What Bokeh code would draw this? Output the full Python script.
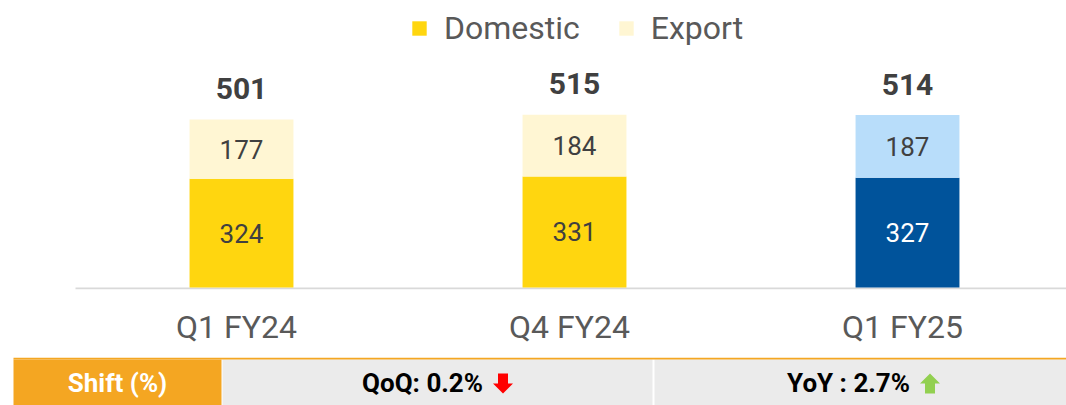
from bokeh.plotting import figure
from bokeh.models import Range1d, FixedTicker, Legend, LegendItem, ColumnDataSource
from bokeh.layouts import column
from bokeh.embed import file_html
from bokeh.resources import INLINE
from bokeh.core.properties import value

# ---- data ----
categories = ["Q1 FY24", "Q4 FY24", "Q1 FY25"]
domestic = [324, 331, 327]
export = [177, 184, 187]
totals = [501, 515, 514]
domestic_colors = ["#FFD60F", "#FFD60F", "#00539B"]
export_colors = ["#FFF6D3", "#FFF6D3", "#B8DDFA"]
domestic_text_colors = ["#404040", "#404040", "#FFFFFF"]
table_header = "Shift (%)"
table_cells = ["QoQ: 0.2%", "YoY : 2.7%"]
table_trend = ["down", "up"]
trend_colors = {"down": "#FF0000", "up": "#92D050"}

FONT = value("Roboto")
W = 1066
PX_PER_UNIT = 0.3355     # vertical scale (px per value unit)
PX_PER_CAT = 333.0       # horizontal spacing between categories

x = list(range(len(categories)))
src = ColumnDataSource(dict(
    x=x,
    dom=domestic,
    top=[d + e for d, e in zip(domestic, export)],
    dom_mid=[d / 2 for d in domestic],
    exp_mid=[d + e / 2 for d, e in zip(domestic, export)],
    tot=totals,
    dc=domestic_colors,
    ec=export_colors,
    dtc=domestic_text_colors,
    dom_lbl=[str(v) for v in domestic],
    exp_lbl=[str(v) for v in export],
    tot_lbl=[str(v) for v in totals],
))

first_center = 241.0
x_start = -first_center / PX_PER_CAT
x_end = (W - first_center) / PX_PER_CAT
y_lo = -2 / PX_PER_UNIT
y_hi = 287 / PX_PER_UNIT

p = figure(width=W, height=357,
           x_range=Range1d(x_start, x_end), y_range=Range1d(y_lo, y_hi),
           output_backend="svg", toolbar_location=None,
           min_border_left=0, min_border_right=0, min_border_top=0, min_border_bottom=68,
           y_axis_location=None)
p.grid.visible = False
p.outline_line_color = None
p.background_fill_color = "white"
p.border_fill_color = "white"

# baseline
axis_start = (75 - first_center) / PX_PER_CAT
p.segment(x0=[axis_start], x1=[x_end], y0=[y_lo / 2], y1=[y_lo / 2],
          line_color="#D9D9D9", line_width=2)

r_dom = p.vbar(x="x", bottom=0, top="dom", width=0.312, fill_color="dc", line_color=None, source=src)
r_exp = p.vbar(x="x", bottom="dom", top="top", width=0.312, fill_color="ec", line_color=None, source=src)

p.text(x="x", y="dom_mid", text="dom_lbl", text_align="center", text_baseline="middle",
       text_font=FONT, text_font_size="26px", text_color="dtc", source=src)
p.text(x="x", y="exp_mid", text="exp_lbl", text_align="center", text_baseline="middle",
       text_font=FONT, text_font_size="26px", text_color="#404040", source=src)
p.text(x="x", y="tot", text="tot_lbl", text_align="center", text_baseline="middle",
       y_offset=-31, text_font=FONT, text_font_size="30px", text_font_style="bold",
       text_color="#404040", source=src)

label_shift = 0.015
tick_pos = [round(i - label_shift, 3) for i in x]
ax = p.xaxis[0]
ax.ticker = FixedTicker(ticks=tick_pos)
ax.major_label_overrides = {tp: c for tp, c in zip(tick_pos, categories)}
ax.axis_line_color = None
ax.major_tick_line_color = None
ax.minor_tick_line_color = None
ax.major_label_text_font = "Roboto"
ax.major_label_text_font_size = "32px"
ax.major_label_text_color = "#595959"
ax.major_label_standoff = 12

legend = Legend(items=[LegendItem(label="Domestic", renderers=[r_dom], index=0),
                       LegendItem(label="Export", renderers=[r_exp], index=0)],
                orientation="horizontal", location=(410, 242),
                label_text_font="Roboto", label_text_font_size="32px",
                label_text_color="#595959", glyph_width=18, glyph_height=18,
                label_standoff=16, spacing=37, padding=0, margin=0,
                border_line_color=None, background_fill_alpha=0)
p.add_layout(legend)

# ---- table strip ----
TH = 48
t = figure(width=W, height=TH, x_range=Range1d(0, W), y_range=Range1d(0, TH),
           output_backend="svg", toolbar_location=None,
           min_border_left=0, min_border_right=0, min_border_top=0, min_border_bottom=0,
           x_axis_location=None, y_axis_location=None)
t.grid.visible = False
t.outline_line_color = None
t.background_fill_color = "white"
t.border_fill_color = "white"

cell_left = [13, 222, 654]
cell_right = [221, 652, 1066]
cell_colors = ["#F4A622", "#EBEBEB", "#EBEBEB"]
t.quad(left=cell_left, right=cell_right, bottom=0, top=46, fill_color=cell_colors, line_color=None)
t.quad(left=[13], right=[W], bottom=[46], top=[48], fill_color="#F4A622", line_color=None)

cy = 23
t.text(x=[(cell_left[0] + cell_right[0]) / 2], y=[cy], text=[table_header], text_align="center",
       text_baseline="middle", text_font=FONT, text_font_size="26px", text_font_style="bold",
       text_color="white")

text_widths = [121, 129]
gap = 10
aw = 20
xs_all, ys_all, cols = [], [], []
tx, tlabels = [], []
for i, (lbl, tr) in enumerate(zip(table_cells, table_trend)):
    c = (cell_left[i + 1] + cell_right[i + 1]) / 2
    total_w = text_widths[i] + gap + aw
    right = c + total_w / 2 - gap - aw
    tx.append(right)
    tlabels.append(lbl)
    x0 = right + gap
    yt, yb = 32, 12
    ym = yb + 0.5 * (yt - yb)
    xs = [x0 + 5, x0 + 15, x0 + 15, x0 + 20, x0 + 10, x0, x0 + 5]
    if tr == "down":
        ys = [yt, yt, ym, ym, yb, ym, ym]
    else:
        ys = [yb, yb, ym, ym, yt, ym, ym]
    xs_all.append(xs)
    ys_all.append(ys)
    cols.append(trend_colors[tr])

t.text(x=tx, y=[cy] * len(tx), text=tlabels, text_align="right", text_baseline="middle",
       text_font=FONT, text_font_size="26px", text_font_style="bold", text_color="black")
t.patches(xs=xs_all, ys=ys_all, fill_color=cols, line_color=None)

layout = column(p, t, spacing=0)
open("out.html", "w").write(file_html(layout, INLINE))
